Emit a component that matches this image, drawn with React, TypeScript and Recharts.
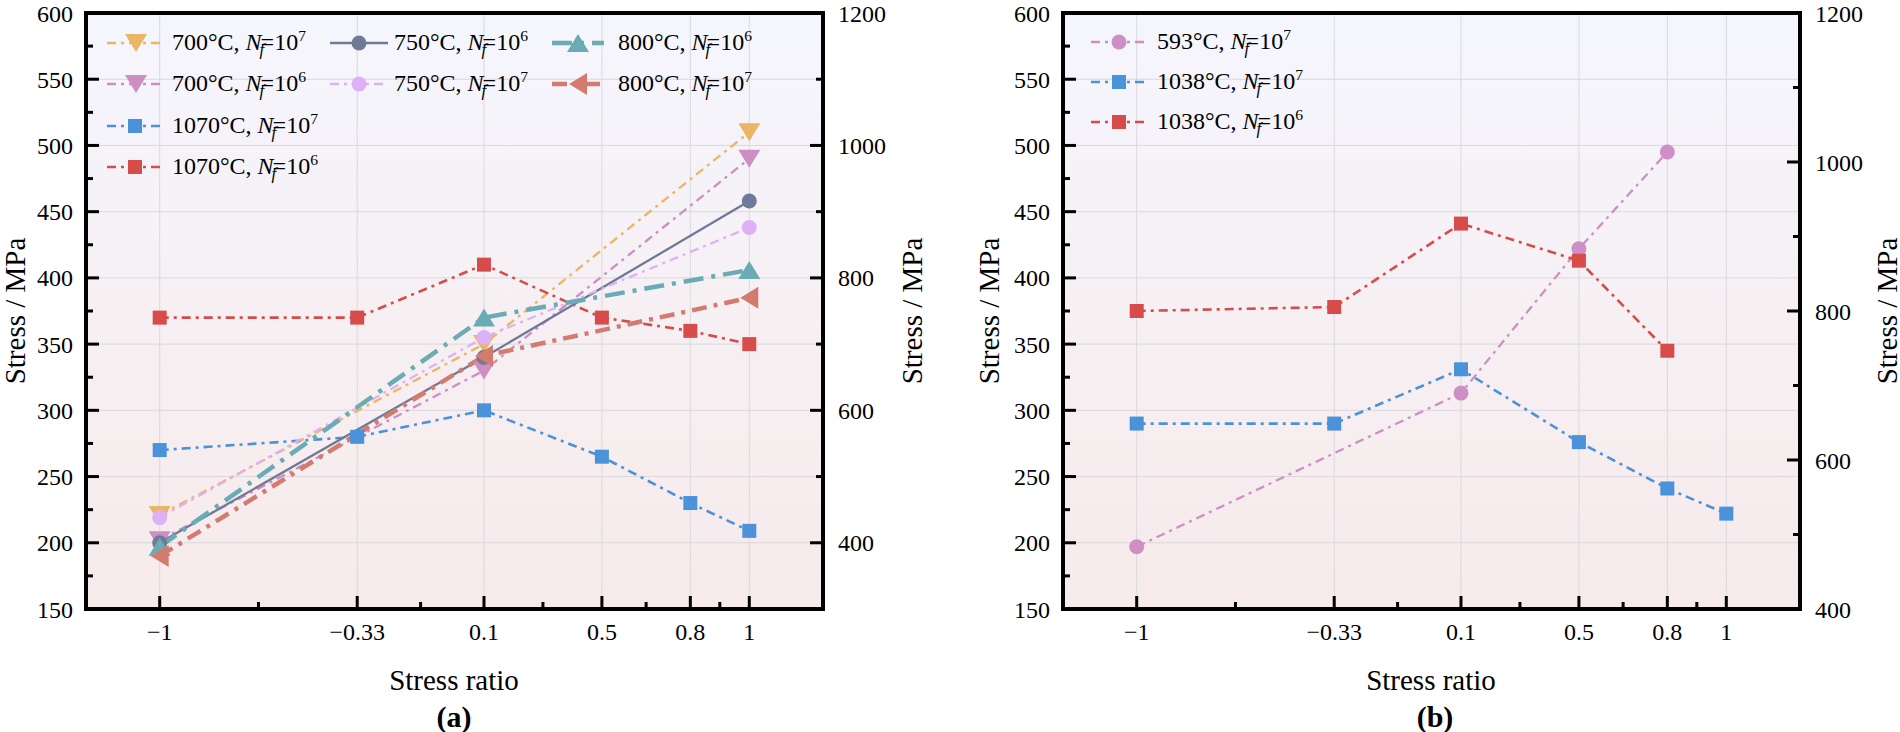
import React from 'react';
import { LineChart, Line, XAxis, YAxis, CartesianGrid } from 'recharts';

// axis ticks
const ratioTicks = [-1, -0.33, 0.1, 0.5, 0.8, 1];
const ratioMinorTicks = [-0.665, -0.115, 0.3, 0.65, 0.9];
const stressTicks = [150, 200, 250, 300, 350, 400, 450, 500, 550, 600];
const stressMinorTicks = [175, 225, 275, 325, 375, 425, 475, 525, 575];
const rightTicks = [400, 600, 800, 1000, 1200];
const rightMinorTicks = [500, 700, 900, 1100];

// panel (a) - stress ratio values
const ratio3 = [-1, 0.1, 1];
const ratio6 = [-1, -0.33, 0.1, 0.5, 0.8, 1];
// panel (a) - stress (MPa)
const a700e7 = [221, 350, 510];
const a700e6 = [202, 330, 490];
const a750e6 = [200, 340, 458];
const a750e7 = [219, 355, 438];
const a800e6 = [197, 370, 406];
const a800e7 = [190, 341, 385];
const a1070e7 = [270, 280, 300, 265, 230, 209];
const a1070e6 = [370, 370, 410, 370, 360, 350];

// panel (b)
const ratio593 = [-1, 0.1, 0.5, 0.8];
const b593e7 = [197, 313, 422, 495];
const b1038e7 = [290, 290, 331, 276, 241, 222];
const ratio1038e6 = [-1, -0.33, 0.1, 0.5, 0.8];
const b1038e6 = [375, 378, 441, 413, 345];

const FONT = "'Liberation Serif', 'Times New Roman', serif";
const TICK_STYLE = { fontSize: 24, fill: '#000', fontFamily: FONT };
const X_DOMAIN = [-1.25, 1.25];
const Y_DOMAIN = [150, 600];
const CHART_W = 950;
const CHART_H = 732;
const AXIS_W = 60;
const AXIS_H = 60;

const pts = (xs: number[], ys: number[]) => xs.map((x, i) => ({ x, y: ys[i] }));

type Shape = 'square' | 'circle' | 'down' | 'up' | 'left';
interface Series {
  id: string;
  temp: number;
  exp: number;
  xs: number[];
  ys: number[];
  color: string;
  shape: Shape;
  dash?: string;
  width: number;
}

const seriesA: Series[] = [
  { id: 'a700e7', temp: 700, exp: 7, xs: ratio3, ys: a700e7, color: '#ebb563', shape: 'down', dash: '9 5 3 5', width: 2.3 },
  { id: 'a700e6', temp: 700, exp: 6, xs: ratio3, ys: a700e6, color: '#cd8ec1', shape: 'down', dash: '9 5 3 5', width: 2.3 },
  { id: 'a1070e7', temp: 1070, exp: 7, xs: ratio6, ys: a1070e7, color: '#4a92da', shape: 'square', dash: '9 5 3 5', width: 2.6 },
  { id: 'a1070e6', temp: 1070, exp: 6, xs: ratio6, ys: a1070e6, color: '#d84b4b', shape: 'square', dash: '9 5 3 5', width: 2.6 },
  { id: 'a750e6', temp: 750, exp: 6, xs: ratio3, ys: a750e6, color: '#6f7a98', shape: 'circle', width: 2.3 },
  { id: 'a750e7', temp: 750, exp: 7, xs: ratio3, ys: a750e7, color: '#ddb1f7', shape: 'circle', dash: '9 5 3 5', width: 2.3 },
  { id: 'a800e6', temp: 800, exp: 6, xs: ratio3, ys: a800e6, color: '#6aabb6', shape: 'up', dash: '20 8 4 8', width: 4.5 },
  { id: 'a800e7', temp: 800, exp: 7, xs: ratio3, ys: a800e7, color: '#d47a6e', shape: 'left', dash: '15 7 4 7', width: 4.5 },
];

const seriesB: Series[] = [
  { id: 'b593e7', temp: 593, exp: 7, xs: ratio593, ys: b593e7, color: '#ce90c4', shape: 'circle', dash: '9 5 3 5', width: 2.3 },
  { id: 'b1038e7', temp: 1038, exp: 7, xs: ratio6, ys: b1038e7, color: '#4a92da', shape: 'square', dash: '9 5 3 5', width: 2.6 },
  { id: 'b1038e6', temp: 1038, exp: 6, xs: ratio1038e6, ys: b1038e6, color: '#d84b4b', shape: 'square', dash: '9 5 3 5', width: 2.6 },
];

function Marker({ cx, cy, shape, color }: { cx?: number; cy?: number; shape: Shape; color: string }) {
  if (cx == null || cy == null) return null;
  const w = 11;
  const h = 9;
  switch (shape) {
    case 'square':
      return <rect x={cx - 7} y={cy - 7} width={14} height={14} fill={color} />;
    case 'circle':
      return <circle cx={cx} cy={cy} r={7.5} fill={color} />;
    case 'down':
      return <polygon points={`${cx - w},${cy - h} ${cx + w},${cy - h} ${cx},${cy + h}`} fill={color} />;
    case 'up':
      return <polygon points={`${cx - w},${cy + h} ${cx + w},${cy + h} ${cx},${cy - h}`} fill={color} />;
    default:
      return <polygon points={`${cx + h},${cy - w} ${cx + h},${cy + w} ${cx - h},${cy}`} fill={color} />;
  }
}

const fmt = (v: number) => String(v).replace('-', '\u2212');

function LegendLabel({ s }: { s: Series }) {
  return (
    <span>
      {s.temp}°C, <i>N</i>
      <sub style={{ fontSize: '0.7em', verticalAlign: '-0.3em', marginLeft: '-0.12em', marginRight: '-0.22em' }}>
        <i>f</i>
      </sub>
      =10
      <sup style={{ fontSize: '0.65em', verticalAlign: '0.55em' }}>{s.exp}</sup>
    </span>
  );
}

function LegendItem({ s, x, y, lineW, textX }: { s: Series; x: number; y: number; lineW: number; textX: number }) {
  return (
    <div style={{ position: 'absolute', left: x, top: y - 16, height: 32, display: 'flex', alignItems: 'center' }}>
      <svg width={lineW} height={32} style={{ display: 'block' }}>
        <line x1={0} x2={lineW} y1={16} y2={16} stroke={s.color} strokeWidth={s.width} strokeDasharray={s.dash} />
        <Marker cx={lineW / 2} cy={16} shape={s.shape} color={s.color} />
      </svg>
      <div style={{ marginLeft: textX - x - lineW, fontSize: 24, fontFamily: FONT, whiteSpace: 'nowrap', lineHeight: '32px' }}>
        <LegendLabel s={s} />
      </div>
    </div>
  );
}

function Title({ text, cx, cy, rotate, bold }: { text: string; cx: number; cy: number; rotate?: boolean; bold?: boolean }) {
  return (
    <div
      style={{
        position: 'absolute',
        left: cx,
        top: cy,
        transform: `translate(-50%, -50%)${rotate ? ' rotate(-90deg)' : ''}`,
        fontFamily: FONT,
        fontSize: bold ? 30 : 29,
        fontWeight: bold ? 'bold' : 'normal',
        whiteSpace: 'nowrap',
        lineHeight: 1,
      }}
    >
      {text}
    </div>
  );
}

// frame and inward ticks, placed on the same plot box the chart uses
function Frame({ margin, rightDomain }: { margin: any; rightDomain: number[] }) {
  const L = margin.left + AXIS_W;
  const T = margin.top;
  const W = CHART_W - margin.left - margin.right - 2 * AXIS_W;
  const H = CHART_H - margin.top - margin.bottom - AXIS_H;
  const R = L + W;
  const B = T + H;
  const px = (v: number) => L + ((v - X_DOMAIN[0]) / (X_DOMAIN[1] - X_DOMAIN[0])) * W;
  const py = (v: number) => T + ((Y_DOMAIN[1] - v) / (Y_DOMAIN[1] - Y_DOMAIN[0])) * H;
  const pr = (v: number) => T + ((rightDomain[1] - v) / (rightDomain[1] - rightDomain[0])) * H;
  const tick = { stroke: '#000', strokeWidth: 3 };
  return (
    <svg width={CHART_W} height={CHART_H} style={{ position: 'absolute', left: 0, top: 0, pointerEvents: 'none' }}>
      {ratioTicks.map(v => <line key={`xM${v}`} x1={px(v)} x2={px(v)} y1={B} y2={B - 13} {...tick} />)}
      {ratioMinorTicks.map(v => <line key={`xm${v}`} x1={px(v)} x2={px(v)} y1={B} y2={B - 7} {...tick} />)}
      {stressTicks.map(v => <line key={`lM${v}`} x1={L} x2={L + 13} y1={py(v)} y2={py(v)} {...tick} />)}
      {stressMinorTicks.map(v => <line key={`lm${v}`} x1={L} x2={L + 7} y1={py(v)} y2={py(v)} {...tick} />)}
      {rightTicks.map(v => <line key={`rM${v}`} x1={R} x2={R - 13} y1={pr(v)} y2={pr(v)} {...tick} />)}
      {rightMinorTicks.map(v => <line key={`rm${v}`} x1={R} x2={R - 7} y1={pr(v)} y2={pr(v)} {...tick} />)}
      <rect x={L} y={T} width={W} height={H} fill="none" stroke="#000" strokeWidth={4} />
    </svg>
  );
}

function Panel({ id, series, left, margin, rightDomain }: { id: string; series: Series[]; left: number; margin: any; rightDomain: number[] }) {
  return (
    <div style={{ position: 'absolute', left, top: 0, width: CHART_W, height: CHART_H }}>
      <LineChart width={CHART_W} height={CHART_H} margin={margin}>
        <defs>
          <linearGradient id={`bg-${id}`} x1="0" y1="0" x2="0" y2="1">
            <stop offset="0%" stopColor="#f5f6fd" />
            <stop offset="100%" stopColor="#f7eaea" />
          </linearGradient>
        </defs>
        <CartesianGrid yAxisId="left" fill={`url(#bg-${id})`} fillOpacity={1} stroke="#d9d9dc" strokeWidth={1} />
        <XAxis
          type="number"
          dataKey="x"
          domain={X_DOMAIN}
          ticks={ratioTicks}
          interval={0}
          tick={TICK_STYLE}
          tickFormatter={fmt}
          tickLine={false}
          tickSize={-13}
          tickMargin={27}
          axisLine={false}
          height={AXIS_H}
          allowDataOverflow
        />
        <YAxis
          yAxisId="left"
          type="number"
          domain={Y_DOMAIN}
          ticks={stressTicks}
          interval={0}
          tick={TICK_STYLE}
          tickLine={false}
          tickSize={-13}
          tickMargin={26}
          axisLine={false}
          width={AXIS_W}
          allowDataOverflow
        />
        <YAxis
          yAxisId="right"
          orientation="right"
          type="number"
          domain={rightDomain}
          ticks={rightTicks}
          interval={0}
          tick={TICK_STYLE}
          tickLine={false}
          tickSize={-13}
          tickMargin={28}
          axisLine={false}
          width={AXIS_W}
          allowDataOverflow
        />
        {series.map(s => (
          <Line
            key={s.id}
            yAxisId="left"
            data={pts(s.xs, s.ys)}
            dataKey="y"
            type="linear"
            stroke={s.color}
            strokeWidth={s.width}
            strokeDasharray={s.dash}
            isAnimationActive={false}
            activeDot={false}
            legendType="none"
            dot={(p: any) => <Marker key={`${s.id}-${p.index}`} cx={p.cx} cy={p.cy} shape={s.shape} color={s.color} />}
          />
        ))}
      </LineChart>
      <Frame margin={margin} rightDomain={rightDomain} />
    </div>
  );
}

export default function App() {
  const byId = (list: Series[], id: string) => list.find(s => s.id === id)!;
  return (
    <div style={{ position: 'absolute', left: 0, top: 0, width: 1900, height: 732, background: '#fff', overflow: 'hidden' }}>
      <Panel id="a" series={seriesA} left={0} margin={{ top: 13, right: 67, bottom: 63, left: 26 }} rightDomain={[300, 1200]} />
      <Panel id="b" series={seriesB} left={950} margin={{ top: 13, right: 40, bottom: 63, left: 53 }} rightDomain={[400, 1200]} />

      {/* legend (a) */}
      <LegendItem s={byId(seriesA, 'a700e7')} x={107} y={43} lineW={58} textX={172} />
      <LegendItem s={byId(seriesA, 'a700e6')} x={107} y={84} lineW={58} textX={172} />
      <LegendItem s={byId(seriesA, 'a1070e7')} x={107} y={126} lineW={56} textX={172} />
      <LegendItem s={byId(seriesA, 'a1070e6')} x={107} y={167} lineW={56} textX={172} />
      <LegendItem s={byId(seriesA, 'a750e6')} x={330} y={43} lineW={58} textX={394} />
      <LegendItem s={byId(seriesA, 'a750e7')} x={330} y={84} lineW={58} textX={394} />
      <LegendItem s={byId(seriesA, 'a800e6')} x={552} y={43} lineW={52} textX={618} />
      <LegendItem s={byId(seriesA, 'a800e7')} x={552} y={84} lineW={52} textX={618} />

      {/* legend (b) */}
      <LegendItem s={byId(seriesB, 'b593e7')} x={1091} y={42} lineW={56} textX={1157} />
      <LegendItem s={byId(seriesB, 'b1038e7')} x={1091} y={82} lineW={56} textX={1157} />
      <LegendItem s={byId(seriesB, 'b1038e6')} x={1091} y={122} lineW={56} textX={1157} />

      <Title text="Stress / MPa" cx={15} cy={311} rotate />
      <Title text="Stress / MPa" cx={912} cy={311} rotate />
      <Title text="Stress / MPa" cx={989} cy={311} rotate />
      <Title text="Stress / MPa" cx={1887} cy={311} rotate />
      <Title text="Stress ratio" cx={454} cy={680} />
      <Title text="Stress ratio" cx={1431} cy={680} />
      <Title text="(a)" cx={454} cy={717} bold />
      <Title text="(b)" cx={1435} cy={717} bold />
    </div>
  );
}
